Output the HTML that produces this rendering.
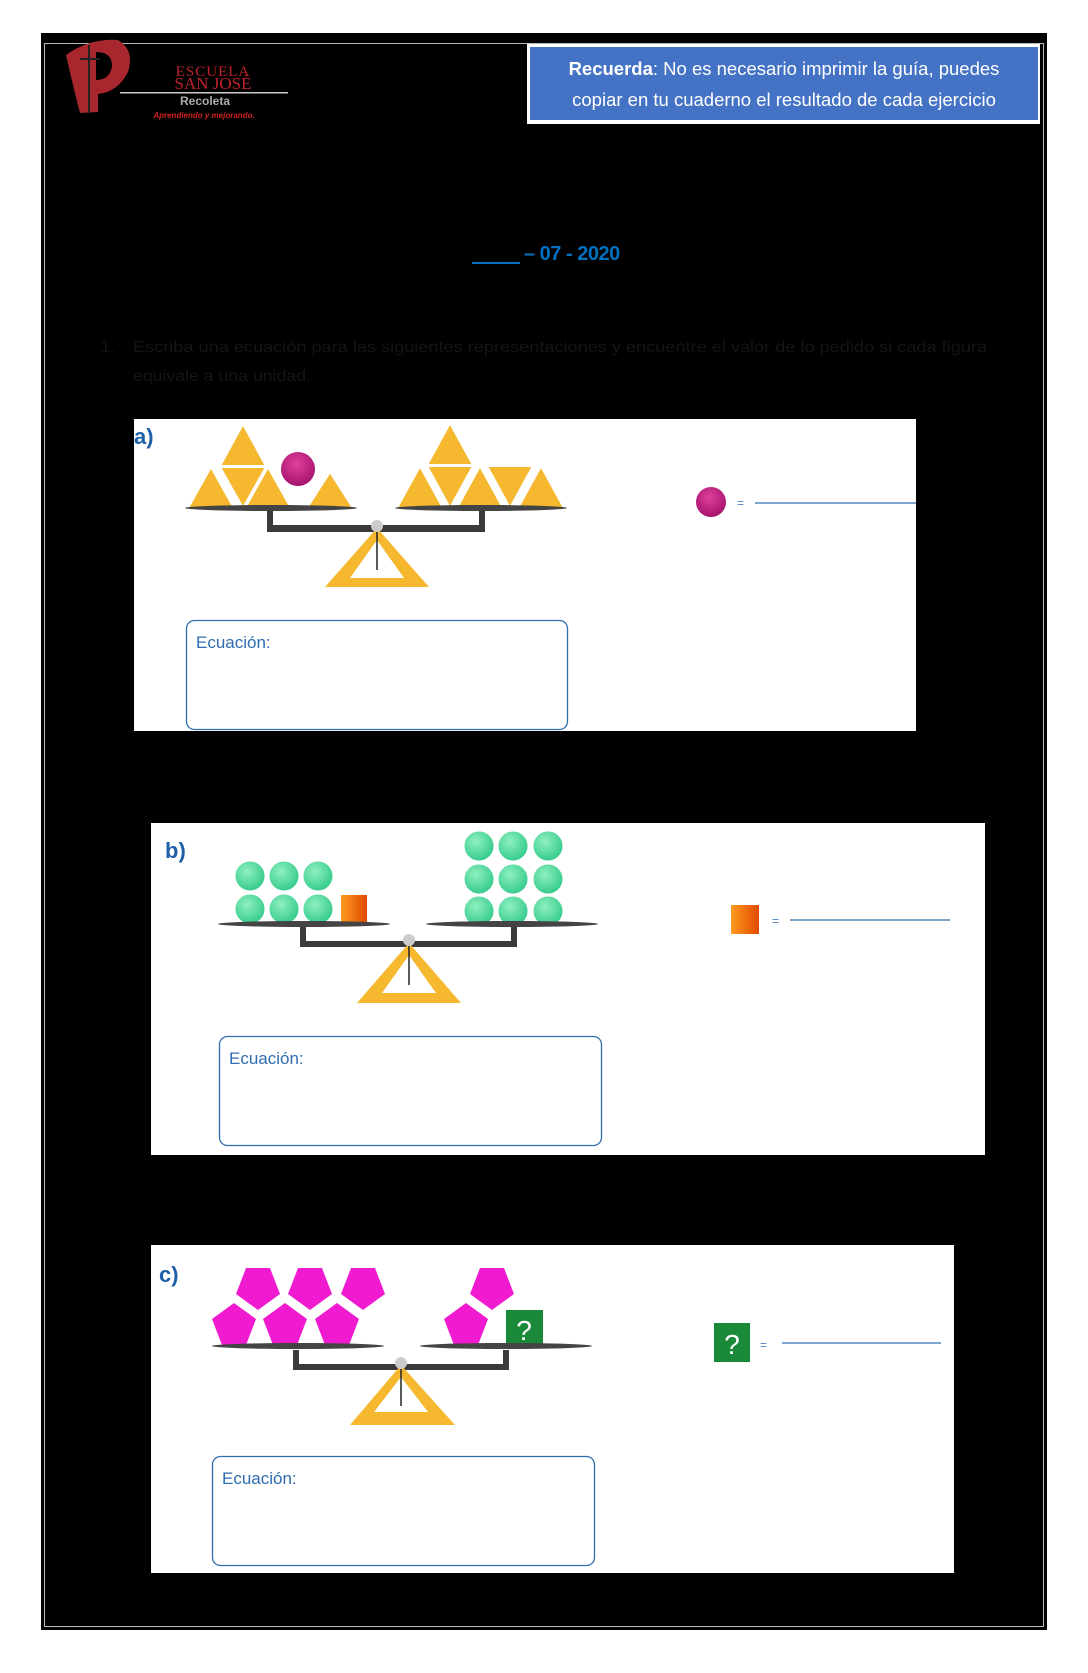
<!DOCTYPE html>
<html><head><meta charset="utf-8"><style>
html,body{margin:0;padding:0;background:#fff;}
body{width:1088px;height:1673px;overflow:hidden;}
svg{display:block;}
</style></head><body>
<svg width="1088" height="1673" viewBox="0 0 1088 1673" xmlns="http://www.w3.org/2000/svg" font-family="Liberation Sans, sans-serif">
<defs>
<radialGradient id="ball" cx="0.45" cy="0.35" r="0.7"><stop offset="0" stop-color="#e0409a"/><stop offset="1" stop-color="#a0106a"/></radialGradient>
<radialGradient id="gb" cx="0.4" cy="0.35" r="0.7"><stop offset="0" stop-color="#8ff0c0"/><stop offset="1" stop-color="#2fc888"/></radialGradient>
<linearGradient id="sq" x1="0" x2="1"><stop offset="0" stop-color="#ff9a20"/><stop offset="1" stop-color="#e04a00"/></linearGradient>
</defs>
<rect x="0" y="0" width="1088" height="1673" fill="#fff"/>
<rect x="41" y="33" width="1006" height="1597" fill="#000"/>
<rect x="44.5" y="43.5" width="999" height="1583" fill="none" stroke="#bbb" stroke-width="1"/>

<!-- logo -->
<path d="M66 55 Q90 38 118 40 Q135 50 128 72 Q118 92 98 94 L98 112 L80 113 Q74 90 66 55Z" fill="#a8262e"/>
<path d="M96 52 Q112 52 112 66 Q110 80 96 80Z" fill="#000"/>
<rect x="88" y="45" width="2" height="68" fill="#222"/><rect x="80" y="58" width="20" height="2" fill="#222"/>
<text x="213" y="76" font-family="Liberation Serif, serif" font-size="15" fill="#c0202a" text-anchor="middle" letter-spacing="1">ESCUELA</text>
<text x="213" y="89" font-family="Liberation Serif, serif" font-size="17" fill="#c0202a" text-anchor="middle">SAN JOSÉ</text>
<rect x="120" y="92" width="168" height="1.5" fill="#ccc"/>
<text x="205" y="105" font-size="12" font-weight="bold" fill="#aaa" text-anchor="middle">Recoleta</text>
<text x="204" y="118" font-size="8" font-weight="bold" font-style="italic" fill="#d02020" text-anchor="middle">Aprendiendo y mejorando.</text>

<!-- recuerda box -->
<rect x="527" y="44" width="513" height="80" fill="#fff"/>
<rect x="530" y="47" width="508" height="73" fill="#4472c4"/>
<text x="784" y="75" font-size="18.5" fill="#fff" text-anchor="middle"><tspan font-weight="bold">Recuerda</tspan>: No es necesario imprimir la guía, puedes</text>
<text x="784" y="106" font-size="18.5" fill="#fff" text-anchor="middle">copiar en tu cuaderno el resultado de cada ejercicio</text>

<!-- date -->
<rect x="472" y="262" width="48" height="2" fill="#0070c0"/>
<text x="524" y="260" font-size="20" font-weight="bold" fill="#0070c0" letter-spacing="-0.5">– 07 - 2020</text>

<!-- instructions (dark on black) -->
<text x="101" y="352" font-size="16" fill="#151515">1.</text>
<text x="133" y="352" font-size="16" fill="#151515" textLength="854" lengthAdjust="spacingAndGlyphs">Escriba una ecuación para las siguientes representaciones y encuentre el valor de lo pedido si cada figura</text>
<text x="133" y="381" font-size="16" fill="#151515" textLength="178" lengthAdjust="spacingAndGlyphs">equivale a una unidad.</text>

<!-- PANEL A -->
<rect x="134" y="419" width="782" height="312" fill="#fff"/>
<text x="134" y="444" font-size="22" font-weight="bold" fill="#1f5fa8">a)</text>
<g fill="#f5b82e" stroke="#fff" stroke-width="2">
<polygon points="243,424 220,466 266,466"/>
<polygon points="211,467 188,508 234,508"/>
<polygon points="220,467 266,467 243,508"/>
<polygon points="268,467 245,508 291,508"/>
<polygon points="330,472 307,508 353,508"/>
<polygon points="450,423 427,465 473,465"/>
<polygon points="420,466 397,508 443,508"/>
<polygon points="427,466 473,466 450,508"/>
<polygon points="480,466 457,508 503,508"/>
<polygon points="487,466 533,466 510,508"/>
<polygon points="541,466 518,508 564,508"/>
</g>
<circle cx="298" cy="469" r="17" fill="url(#ball)"/>
<ellipse cx="271" cy="508" rx="86" ry="3" fill="#444"/><ellipse cx="481" cy="508" rx="86" ry="3" fill="#444"/>
<path d="M267 511 V532 H485 V511 H479 V525 H273 V511Z" fill="#3a3a3a"/>
<polygon points="377,528 325,587 429,587" fill="#f5b82e"/>
<polygon points="377,540 350,578 404,578" fill="#fff"/>
<line x1="377" y1="528" x2="377" y2="570" stroke="#222" stroke-width="1.5"/>
<circle cx="377" cy="526" r="6" fill="#ccc"/>
<circle cx="711" cy="502" r="15" fill="url(#ball)"/>
<text x="737" y="507" font-size="12" fill="#4a7ec0">=</text>
<line x1="755" y1="503" x2="916" y2="503" stroke="#2f6db0" stroke-width="1.3"/>
<rect x="186.5" y="620.5" width="381" height="109" rx="8" fill="#fff" stroke="#2f6db0" stroke-width="1.3"/>
<text x="196" y="648" font-size="17" fill="#2f6db0">Ecuación:</text>

<!-- PANEL B -->
<rect x="151" y="823" width="834" height="332" fill="#fff"/>
<text x="165" y="858" font-size="22" font-weight="bold" fill="#1f5fa8">b)</text>
<g fill="url(#gb)" stroke="#fff" stroke-width="1">
<ellipse cx="250" cy="876" rx="15" ry="15"/><ellipse cx="284" cy="876" rx="15" ry="15"/><ellipse cx="318" cy="876" rx="15" ry="15"/>
<ellipse cx="250" cy="909" rx="15" ry="15"/><ellipse cx="284" cy="909" rx="15" ry="15"/><ellipse cx="318" cy="909" rx="15" ry="15"/>
<ellipse cx="479" cy="846" rx="15" ry="15"/><ellipse cx="513" cy="846" rx="15" ry="15"/><ellipse cx="548" cy="846" rx="15" ry="15"/>
<ellipse cx="479" cy="879" rx="15" ry="15"/><ellipse cx="513" cy="879" rx="15" ry="15"/><ellipse cx="548" cy="879" rx="15" ry="15"/>
<ellipse cx="479" cy="911" rx="15" ry="15"/><ellipse cx="513" cy="911" rx="15" ry="15"/><ellipse cx="548" cy="911" rx="15" ry="15"/>
</g>
<rect x="341" y="895" width="26" height="28" fill="url(#sq)"/>
<ellipse cx="304" cy="924" rx="86" ry="3" fill="#444"/><ellipse cx="512" cy="924" rx="86" ry="3" fill="#444"/>
<path d="M300 927 V947 H517 V927 H511 V941 H306 V927Z" fill="#3a3a3a"/>
<polygon points="409,943 357,1003 461,1003" fill="#f5b82e"/>
<polygon points="409,955 382,993 436,993" fill="#fff"/>
<line x1="409" y1="943" x2="409" y2="985" stroke="#222" stroke-width="1.5"/>
<circle cx="409" cy="940" r="6" fill="#ccc"/>
<rect x="731" y="905" width="28" height="29" fill="url(#sq)"/>
<text x="772" y="925" font-size="12" fill="#4a7ec0">=</text>
<line x1="790" y1="920" x2="950" y2="920" stroke="#2f6db0" stroke-width="1.3"/>
<rect x="219.5" y="1036.5" width="382" height="109" rx="8" fill="#fff" stroke="#2f6db0" stroke-width="1.3"/>
<text x="229" y="1064" font-size="17" fill="#2f6db0">Ecuación:</text>

<!-- PANEL C -->
<rect x="151" y="1245" width="803" height="328" fill="#fff"/>
<text x="159" y="1282" font-size="22" font-weight="bold" fill="#1f5fa8">c)</text>
<g fill="#f01ad0">
<polygon points="246,1268 270,1268 280,1294 258,1310 236,1294"/>
<polygon points="298,1268 322,1268 332,1294 310,1310 288,1294"/>
<polygon points="351,1268 375,1268 385,1294 363,1310 341,1294"/>
<polygon points="234,1303 256,1319 246,1345 222,1345 212,1319"/>
<polygon points="285,1303 307,1319 297,1345 273,1345 263,1319"/>
<polygon points="337,1303 359,1319 349,1345 325,1345 315,1319"/>
<polygon points="480,1268 504,1268 514,1294 492,1310 470,1294"/>
<polygon points="466,1303 488,1319 478,1345 454,1345 444,1319"/>
</g>
<rect x="506" y="1310" width="37" height="36" fill="#1a8a3a"/>
<text x="524" y="1340" font-size="28" fill="#fff" text-anchor="middle">?</text>
<ellipse cx="298" cy="1346" rx="86" ry="3" fill="#444"/><ellipse cx="506" cy="1346" rx="86" ry="3" fill="#444"/>
<path d="M293 1350 V1370 H509 V1350 H503 V1364 H299 V1350Z" fill="#3a3a3a"/>
<polygon points="401,1365 350,1425 455,1425" fill="#f5b82e"/>
<polygon points="401,1377 374,1412 428,1412" fill="#fff"/>
<line x1="401" y1="1365" x2="401" y2="1406" stroke="#222" stroke-width="1.5"/>
<circle cx="401" cy="1363" r="6" fill="#ccc"/>
<rect x="714" y="1323" width="36" height="39" fill="#1a8a3a"/>
<text x="732" y="1354" font-size="28" fill="#fff" text-anchor="middle">?</text>
<text x="760" y="1349" font-size="12" fill="#4a7ec0">=</text>
<line x1="782" y1="1343" x2="941" y2="1343" stroke="#2f6db0" stroke-width="1.3"/>
<rect x="212.5" y="1456.5" width="382" height="109" rx="8" fill="#fff" stroke="#2f6db0" stroke-width="1.3"/>
<text x="222" y="1484" font-size="17" fill="#2f6db0">Ecuación:</text>
</svg>
</body></html>
